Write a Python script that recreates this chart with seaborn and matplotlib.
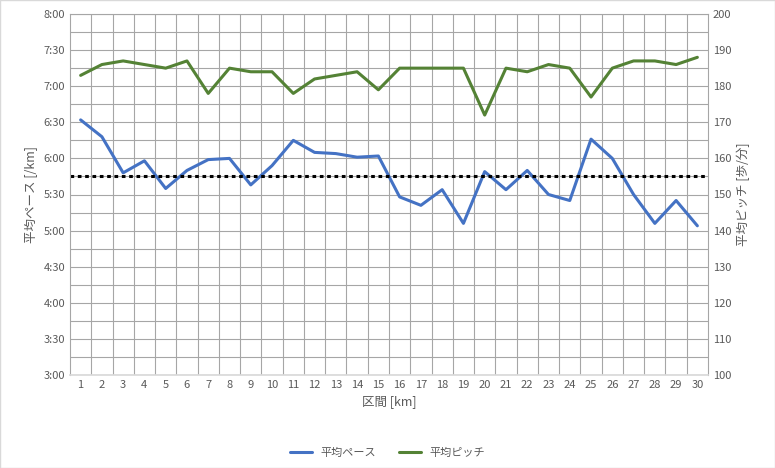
import seaborn as sns
import matplotlib.pyplot as plt
import numpy as np
import pandas as pd

sns.set_theme(style="white")
plt.rcParams['font.family'] = ['Noto Sans CJK JP', 'DejaVu Sans']

# data
km = list(range(1, 31))
pace = ["6:32", "6:18", "5:48", "5:58", "5:35", "5:50", "5:59", "6:00", "5:38", "5:54",
        "6:15", "6:05", "6:04", "6:01", "6:02", "5:28", "5:21", "5:34", "5:06", "5:49",
        "5:34", "5:50", "5:30", "5:25", "6:16", "6:00", "5:30", "5:06", "5:25", "5:04"]
pitch = [183, 186, 187, 186, 185, 187, 178, 185, 184, 184,
         178, 182, 183, 184, 179, 185, 185, 185, 185, 172,
         185, 184, 186, 185, 177, 185, 187, 187, 186, 188]
target_pace = 5 + 45 / 60
pace_ticks = ["3:00", "3:30", "4:00", "4:30", "5:00", "5:30", "6:00", "6:30", "7:00", "7:30", "8:00"]

def to_min(s):
    m, sec = s.split(":")
    return int(m) + int(sec) / 60

df = pd.DataFrame({"km": km, "pace": [to_min(p) for p in pace], "pitch": pitch})

blue = "#4472C4"
green = "#548235"
grid = "#A6A6A6"
txt = "#595959"

fig = plt.figure(figsize=(7.75, 4.68), dpi=100)
ax = fig.add_axes([70 / 775, 1 - 375 / 468, 638 / 775, 361 / 468])
sns.lineplot(data=df, x="km", y="pace", ax=ax, color=blue, lw=2.2, label="平均ペース", legend=False)
ax.axhline(target_pace, color="black", ls=(0, (1.2, 1.2)), lw=2.2)
ax.set_ylim(3, 8)
ax.set_yticks([to_min(t) for t in pace_ticks])
ax.set_yticklabels(pace_ticks)
ax.set_yticks(np.arange(3, 8, 0.25), minor=True)
ax.set_xlim(0.5, 30.5)
ax.set_xticks(km)
ax.set_xticks(np.arange(1.5, 30.5, 1), minor=True)
ax.grid(True, axis="y", which="both", color=grid, lw=0.8)
ax.grid(True, axis="x", which="minor", color=grid, lw=0.8)
ax.set_axisbelow(True)
ax.set_xlabel("区間 [km]", color=txt, fontsize=9)
ax.set_ylabel("平均ペース [/km]", color=txt, fontsize=9)

ax2 = ax.twinx()
sns.lineplot(data=df, x="km", y="pitch", ax=ax2, color=green, lw=2.2, label="平均ピッチ", legend=False)
ax2.set_ylim(100, 200)
ax2.set_yticks(range(100, 201, 10))
ax2.set_ylabel("平均ピッチ [歩/分]", color=txt, fontsize=9)

for a in (ax, ax2):
    a.tick_params(which="both", labelsize=8, colors=txt, length=0)
    for s in a.spines.values():
        s.set_visible(False)
for side in ("left", "right", "top"):
    ax.spines[side].set_visible(True)
    ax.spines[side].set_color(grid)
    ax.spines[side].set_linewidth(0.8)
ax.spines['bottom'].set_visible(True)
ax.spines['bottom'].set_color("#D9D9D9")

h1, l1 = ax.get_legend_handles_labels()
h2, l2 = ax2.get_legend_handles_labels()
fig.legend(h1 + h2, l1 + l2, loc="lower center", ncol=2, frameon=False,
           fontsize=8, labelcolor=txt, bbox_to_anchor=(0.5, 0.0))

fig.patches.append(plt.Rectangle((0, 0), 1, 1, transform=fig.transFigure,
                                 fill=False, edgecolor="#D9D9D9", lw=1))
fig.savefig("out.png", dpi=100)
